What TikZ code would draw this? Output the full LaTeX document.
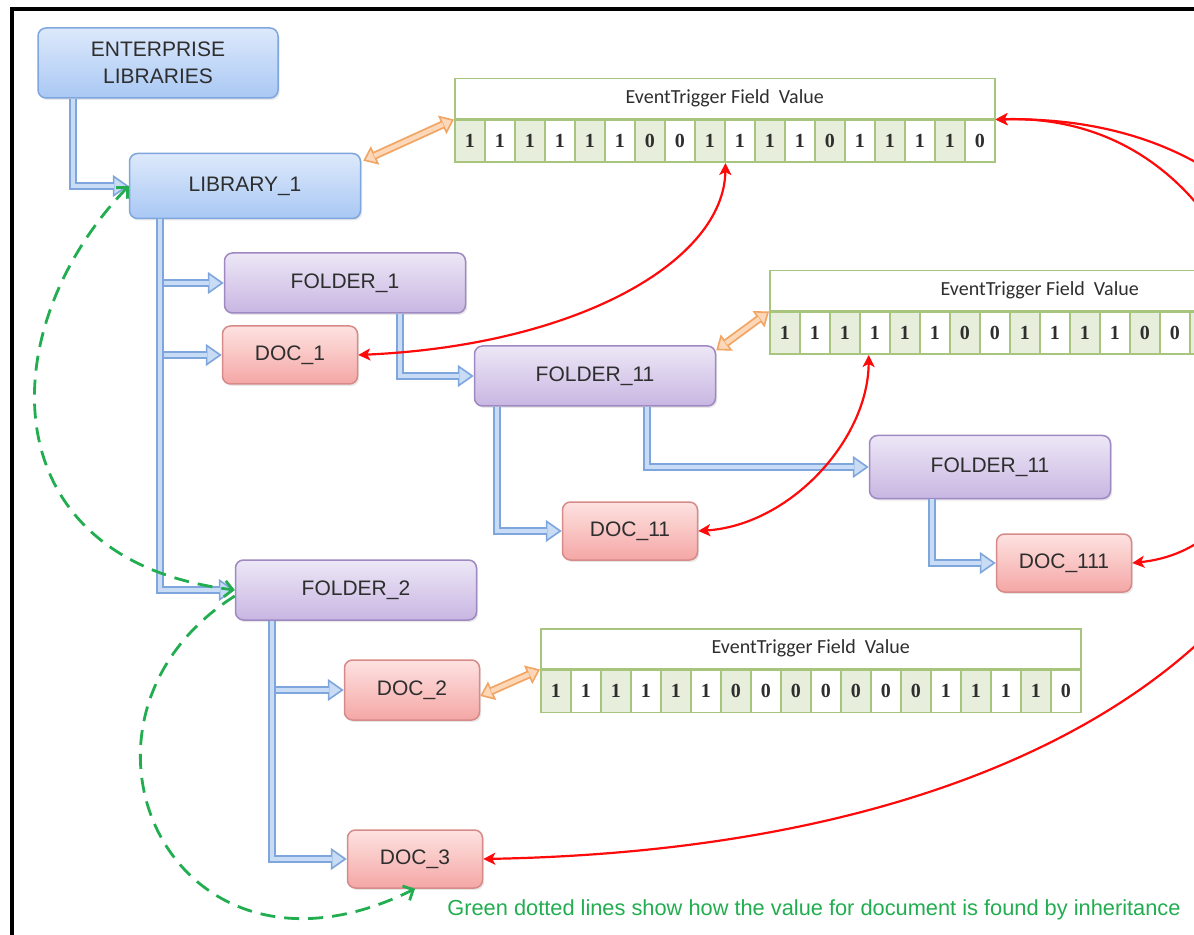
\documentclass[tikz,border=0pt]{standalone}
\usepackage{fontspec}
\setmainfont{Liberation Sans}
\newfontfamily\headfont{Carlito}
\newfontfamily\bitfont{Liberation Serif}
\usetikzlibrary{arrows.meta,shadows}

\definecolor{libtop}{HTML}{DDE9FB}
\definecolor{libbot}{HTML}{A9C8F4}
\definecolor{libedge}{HTML}{7FA7DE}
\definecolor{foldtop}{HTML}{EDE7F6}
\definecolor{foldbot}{HTML}{C8B6E2}
\definecolor{foldedge}{HTML}{9F89C2}
\definecolor{doctop}{HTML}{FDE2E1}
\definecolor{docbot}{HTML}{F4A7A5}
\definecolor{docedge}{HTML}{D68B89}
\definecolor{pipeedge}{HTML}{7EA6DC}
\definecolor{pipefill}{HTML}{C9DCF6}
\definecolor{linkedge}{HTML}{F2A463}
\definecolor{linkfill}{HTML}{FCD8B8}
\definecolor{fieldedge}{HTML}{A7C57D}
\definecolor{cellgreen}{HTML}{E7EFDC}
\definecolor{trigred}{HTML}{FF0A0A}
\definecolor{inheritgreen}{HTML}{22AE50}
\definecolor{boxtext}{HTML}{2E2E2E}

\begin{document}
\begin{tikzpicture}[x=0.5pt, y=-0.5pt,
    box/.style={rounded corners=4pt, line width=0.75pt, text=boxtext, align=center, inner sep=2pt,
      font=\fontsize{10.5}{13.5}\selectfont,
      drop shadow={shadow xshift=0.8pt, shadow yshift=-1pt, opacity=0.18}},
    libbox/.style={box, draw=libedge, top color=libtop, bottom color=libbot, minimum width=115.5pt, minimum height=32.5pt},
    folderbox/.style={box, draw=foldedge, top color=foldtop, bottom color=foldbot, minimum width=120.5pt, minimum height=30pt},
    docbox/.style={box, draw=docedge, top color=doctop, bottom color=docbot, minimum width=67.5pt, minimum height=29pt},
    fieldhead/.style={draw=fieldedge, line width=0.75pt, fill=white, minimum width=270pt, minimum height=20pt,
      inner sep=0pt, text=boxtext, font=\headfont\fontsize{10}{12}\selectfont},
    bitcell/.style={draw=fieldedge, line width=0.75pt, minimum width=15pt, minimum height=21pt,
      inner sep=0pt, text=boxtext, font=\bitfont\bfseries\fontsize{10}{12}\selectfont},
    pipe/.style={draw=pipeedge, line width=4.2pt,
      -{Triangle[length=8pt, width=11pt, line width=0.8pt, fill=pipefill]},
      postaction={draw=pipefill, line width=2.4pt, -, shorten >=7.6pt}},
    link/.style={draw=linkedge, line width=4pt,
      {Triangle[length=6.5pt, width=10pt, line width=0.8pt, fill=linkfill]}-{Triangle[length=6.5pt, width=10pt, line width=0.8pt, fill=linkfill]},
      postaction={draw=linkfill, line width=2.2pt, -, shorten >=6pt, shorten <=6pt}},
    trig/.style={draw=trigred, line width=1.1pt,
      {Stealth[length=6pt, width=6pt, inset=1.5pt]}-{Stealth[length=6pt, width=6pt, inset=1.5pt]}},
    inherit/.style={draw=inheritgreen, line width=1.4pt, dash pattern=on 7.5pt off 4.5pt,
      -{Straight Barb[length=4pt, width=8pt]}}]

    \clip (0,0) rectangle (1194,935);
    \useasboundingbox (0,0) rectangle (1194,935);
    \fill[white] (0,0) rectangle (1194,935);
    \draw[line width=1.6pt] (12,940) -- (12,9) -- (1200,9);

    \newcommand{\eventfield}[4]{
        \node[fieldhead, anchor=north west] (#1) at (#2,#3) {EventTrigger Field\ \ Value};
        \foreach \bit [count=\k] in {#4} {
            \ifodd\k \def\cellcol{cellgreen}\else \def\cellcol{white}\fi
            \node[bitcell, fill=\cellcol, anchor=north west] (#1-\k) at ([xshift={(\k-1)*15pt}]#1.south west) {\bit};
        }
    }

    \node[libbox, minimum width=120pt, minimum height=35pt] (ent) at (158,63) {ENTERPRISE\\LIBRARIES};
    \node[libbox] (lib) at (245,186) {LIBRARY\_1};
    \node[folderbox] (fold1) at (345,283) {FOLDER\_1};
    \node[docbox] (doc1) at (290,355) {DOC\_1};
    \node[folderbox] (fold11) at (595,376) {FOLDER\_11};
    \node[folderbox, minimum height=31.5pt] (fold111) at (990,467) {FOLDER\_11};
    \node[docbox] (doc11) at (630,531) {DOC\_11};
    \node[docbox] (doc111) at (1064,563) {DOC\_111};
    \node[folderbox] (fold2) at (356,590) {FOLDER\_2};
    \node[docbox, minimum height=30pt] (doc2) at (412,690) {DOC\_2};
    \node[docbox] (doc3) at (415,859) {DOC\_3};

    \eventfield{ev1}{454}{78}{1,1,1,1,1,1,0,0,1,1,1,1,0,1,1,1,1,0}
    \eventfield{ev2}{769}{270}{1,1,1,1,1,1,0,0,1,1,1,1,0,0,1,1,1,0}
    \eventfield{ev3}{540}{628}{1,1,1,1,1,1,0,0,0,0,0,0,0,1,1,1,1,0}

    % tree
    \draw[pipe] ([xshift=-42.5pt]ent.south) |- (lib.west);
    \foreach \kid in {fold1, doc1, fold2}
        \draw[pipe] ([xshift=-42.5pt]lib.south) |- (\kid.west);
    \draw[pipe] ([xshift=27.5pt]fold1.south) |- (fold11.west);
    \draw[pipe] ([xshift=-49pt]fold11.south) |- (doc11.west);
    \draw[pipe] ([xshift=26pt]fold11.south) |- (fold111.west);
    \draw[pipe] ([xshift=-29pt]fold111.south) |- (doc111.west);
    \foreach \kid in {doc2, doc3}
        \draw[pipe] ([xshift=-42pt]fold2.south) |- (\kid.west);

    % field values
    \draw[link] ([xshift=1pt, yshift=-4pt]lib.north east) -- (ev1.south west);
    \draw[link] ([yshift=-2.5pt]fold11.north east) -- (ev2.south west);
    \draw[link] ([yshift=-3pt]doc2.east) -- (ev3.south west);

    \draw[trig] (doc1.east) .. controls (580,345) and (724,260) .. (ev1-9.south east);
    \draw[trig] (doc11.east) .. controls (790,525) and (868,440) .. ([xshift=-3pt]ev2-4.south);
    \draw[trig] (doc111.east) .. controls (1350,540) and (1290,110) .. (ev1.south east);
    \draw[trig] (doc3.east) .. controls (1500,840) and (1500,110) .. (ev1.south east);

    % inheritance
    \draw[inherit, {Straight Barb[length=4pt, width=8pt]}-{Straight Barb[length=4pt, width=8pt]}]
        (lib.west) .. controls (-10,330) and (-10,560) .. (fold2.west);
    \draw[inherit] ([yshift=-3pt]fold2.west) .. controls (40,720) and (170,1010) .. (doc3.south);

    \node[anchor=west, inner sep=0pt, text=inheritgreen, font=\fontsize{10.9}{13}\selectfont] (note) at (447,910)
        {Green dotted lines show how the value for document is found by inheritance};
\end{tikzpicture}
\end{document}
